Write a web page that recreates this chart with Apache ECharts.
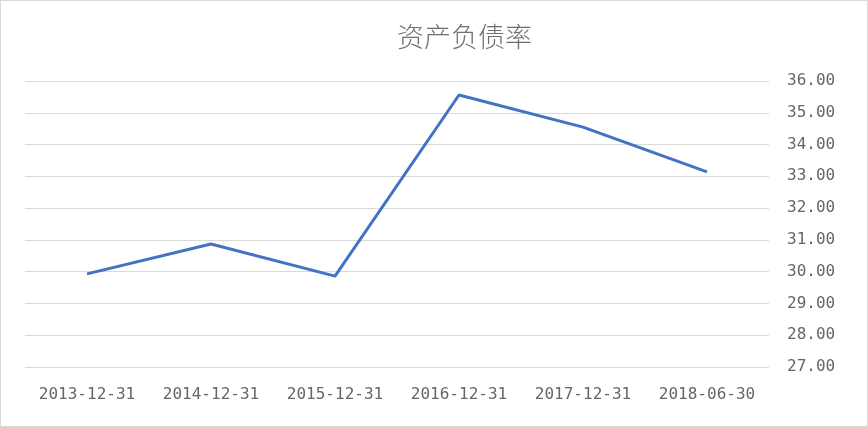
<!DOCTYPE html>
<html><head><meta charset="utf-8">
<script src="https://cdn.jsdelivr.net/npm/echarts@6/dist/echarts.min.js"></script>
<style>html,body{margin:0;padding:0;background:#fff}#c{width:868px;height:427px;box-sizing:border-box;border:1px solid #d9d9d9}</style>
</head><body><div id="c"></div>
<script>
const categories = ['2013-12-31','2014-12-31','2015-12-31','2016-12-31','2017-12-31','2018-06-30'];
const values = [29.93, 30.87, 29.86, 35.56, 34.55, 33.14];
const chart = echarts.init(document.getElementById('c'));
chart.setOption({
  animation:false,
  title:{text:'资产负债率', left:391, top:17, textStyle:{fontFamily:'Noto Sans CJK SC', fontSize:27, fontWeight:300, color:'#6f6f6f'}},
  grid:{left:24, right:98, top:80, bottom:59},
  xAxis:{type:'category', data:categories, axisLine:{show:false}, axisTick:{show:false},
    axisLabel:{interval:0, margin:20, color:'#666666', fontSize:16, fontFamily:'DejaVu Sans Mono'}},
  yAxis:{type:'value', position:'right', min:27, max:36, interval:1,
    axisLine:{show:false}, axisTick:{show:false},
    splitLine:{lineStyle:{color:'#d9d9d9', width:1}},
    axisLabel:{margin:18, color:'#666666', fontSize:16, fontFamily:'DejaVu Sans Mono', formatter:v=>v.toFixed(2)}},
  series:[{type:'line', data:values, symbol:'none', lineStyle:{color:'#4472C4', width:3}, itemStyle:{color:'#4472C4'}}]
});
</script></body></html>
